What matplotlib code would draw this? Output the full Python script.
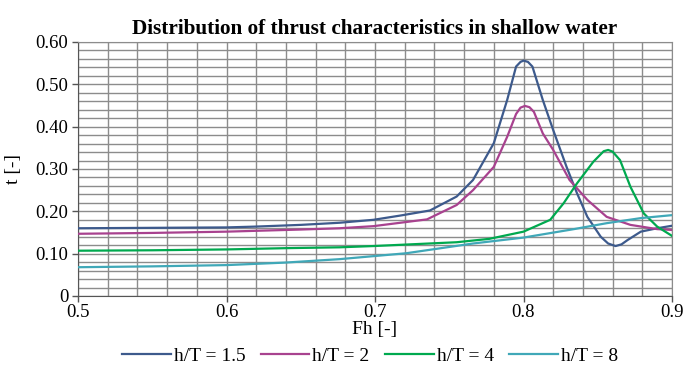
import matplotlib
matplotlib.use("Agg")
import matplotlib.pyplot as plt
from matplotlib.ticker import MultipleLocator, FuncFormatter

# Data
fh_15 = [0.500, 0.550, 0.600, 0.620, 0.650, 0.676, 0.699, 0.717, 0.737, 0.755, 0.766, 0.780,
         0.789, 0.795, 0.798, 0.800, 0.803, 0.806, 0.813, 0.820, 0.829, 0.836, 0.843, 0.852,
         0.857, 0.862, 0.866, 0.870, 0.879, 0.890, 0.900]
t_15 = [0.160, 0.161, 0.162, 0.164, 0.168, 0.173, 0.180, 0.190, 0.202, 0.235, 0.274, 0.361,
        0.463, 0.542, 0.553, 0.556, 0.553, 0.542, 0.463, 0.392, 0.305, 0.243, 0.187, 0.140,
        0.124, 0.118, 0.122, 0.132, 0.152, 0.160, 0.166]

fh_2 = [0.500, 0.550, 0.600, 0.620, 0.650, 0.676, 0.699, 0.735, 0.755, 0.766, 0.780, 0.789,
        0.795, 0.798, 0.801, 0.804, 0.807, 0.813, 0.820, 0.831, 0.843, 0.856, 0.872, 0.890, 0.900]
t_2 = [0.147, 0.149, 0.152, 0.154, 0.157, 0.160, 0.165, 0.181, 0.215, 0.250, 0.305, 0.376,
       0.430, 0.445, 0.449, 0.446, 0.435, 0.384, 0.345, 0.274, 0.227, 0.187, 0.168, 0.158, 0.156]

fh_4 = [0.500, 0.550, 0.600, 0.640, 0.676, 0.699, 0.755, 0.777, 0.800, 0.818, 0.827, 0.836,
        0.847, 0.854, 0.857, 0.860, 0.865, 0.872, 0.881, 0.890, 0.900]
t_4 = [0.107, 0.108, 0.110, 0.113, 0.115, 0.118, 0.127, 0.135, 0.152, 0.180, 0.219, 0.266,
       0.317, 0.342, 0.345, 0.341, 0.321, 0.258, 0.195, 0.164, 0.142]

fh_8 = [0.500, 0.550, 0.600, 0.640, 0.676, 0.721, 0.766, 0.800, 0.834, 0.856, 0.879, 0.900]
t_8 = [0.068, 0.070, 0.073, 0.079, 0.087, 0.101, 0.124, 0.138, 0.158, 0.172, 0.184, 0.191]

labels = ["h/T = 1.5", "h/T = 2", "h/T = 4", "h/T = 8"]
colors = ["#3D5A8C", "#A8428F", "#00A94F", "#40A8B8"]

plt.rcParams['font.family'] = ['Liberation Serif', 'DejaVu Serif']

fig = plt.figure(figsize=(6.92, 3.65), dpi=100)
ax = fig.add_axes([78/692, 1-296/365, (672-78)/692, (296-42)/365])

series = [(fh_15, t_15), (fh_2, t_2), (fh_4, t_4), (fh_8, t_8)]
for (x, y), lab, c in zip(series, labels, colors):
    ax.plot(x, y, color=c, lw=1.6, label=lab, zorder=3)

ax.set_xlim(0.5, 0.9)
ax.set_ylim(0, 0.6)
ax.xaxis.set_major_locator(MultipleLocator(0.1))
ax.xaxis.set_minor_locator(MultipleLocator(0.02))
ax.yaxis.set_major_locator(MultipleLocator(0.1))
ax.yaxis.set_minor_locator(MultipleLocator(0.02))
ax.xaxis.set_major_formatter(FuncFormatter(lambda v, p: f"{v:.1f}"))
ax.yaxis.set_major_formatter(FuncFormatter(lambda v, p: "0" if abs(v) < 1e-9 else f"{v:.2f}"))
ax.grid(which='both', color='#8C8C8C', lw=1.0, zorder=1)
ax.set_axisbelow(True)
ax.tick_params(which='major', labelsize=13.5, length=4, width=1, color='#555555')
ax.tick_params(axis='y', which='major', pad=3)
ax.tick_params(axis='x', which='major', pad=2)
ax.tick_params(which='minor', length=0)
for s in ['left', 'bottom']:
    ax.spines[s].set_color('#555555')
for s in ['top', 'right']:
    ax.spines[s].set_color('#8C8C8C')

ax.set_title("Distribution of thrust characteristics in shallow water",
             fontsize=15.3, fontweight='bold', pad=6)
ax.set_xlabel("Fh [-]", fontsize=14, labelpad=0)
ax.set_ylabel("t [-]", fontsize=14, labelpad=10)

fig.legend(loc='center', bbox_to_anchor=(370/692, 9/365), ncol=4, frameon=False,
           fontsize=14, handlelength=2.5, handletextpad=0.15, columnspacing=0.8,
           borderpad=0, borderaxespad=0)

fig.savefig("out.png", dpi=100)
